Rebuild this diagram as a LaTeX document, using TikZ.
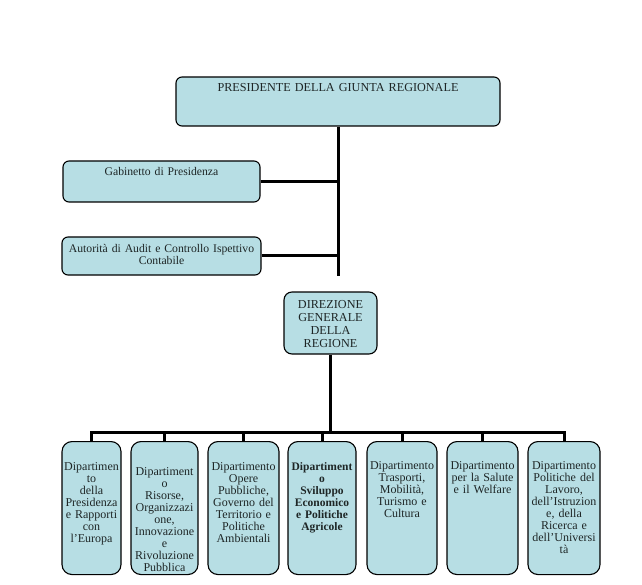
\documentclass[tikz,border=0pt]{standalone}
\usepackage{fontspec}
\setmainfont{Liberation Serif}
\usetikzlibrary{positioning,calc}
\definecolor{boxcyan}{HTML}{B7DEE4}
\definecolor{inkgray}{HTML}{1E2626}

\begin{document}
\begin{tikzpicture}[x=1pt,y=-1pt,
  box/.style={draw=black,line width=1.1pt,fill=boxcyan,text=inkgray,align=center,inner xsep=2pt,inner ysep=0pt,rounded corners=6pt,font=\fontsize{11.7}{13}\selectfont},
  dept/.style={box,rounded corners=10pt,anchor=north,text height=28.5pt,text depth=104.5pt,font=\fontsize{12}{12}\selectfont},
  link/.style={line width=3pt,black}]
\useasboundingbox (0,0) rectangle (642,585);
% top of the chart
\node[box,text width=320pt,text height=15pt,text depth=34pt,font=\fontsize{12.2}{14}\selectfont] (pres) at (338,101.5) {PRESIDENTE DELLA GIUNTA REGIONALE};
\node[box,text width=193pt,text height=15pt,text depth=26pt] (gab) at (161.5,181.5) {Gabinetto di Presidenza};
\node[box,text width=195pt,text height=15pt,text depth=23pt] (aud) at (161.5,256) {Autorità di Audit e Controllo Ispettivo\\Contabile};
\node[box,rounded corners=8pt,text width=89pt,text height=16pt,text depth=46pt,font=\fontsize{12.2}{13.3}\selectfont] (dir) at (330.5,323) {DIREZIONE\\GENERALE\\DELLA\\REGIONE};
% departments
\node[dept,text width=55pt] (d1) at (91.5,441) {Dipartimen\\to\\della\\Presidenza\\e Rapporti\\con\\l'Europa};
\node[dept,text width=63pt,text height=33.5pt,text depth=99.5pt] (d2) at (164.5,441) {Dipartiment\\o\\Risorse,\\Organizzazi\\one,\\Innovazione\\e\\Rivoluzione\\Pubblica};
\node[dept,text width=67pt] (d3) at (243.5,441) {Dipartimento\\Opere\\Pubbliche,\\Governo del\\Territorio e\\Politiche\\Ambientali};
\node[dept,text width=64pt,font=\fontsize{11.5}{12}\selectfont\bfseries] (d4) at (322,441) {Dipartiment\\o\\Sviluppo\\Economico\\e Politiche\\Agricole};
\node[dept,text width=66pt,text height=27.5pt,text depth=105.5pt] (d5) at (402,441) {Dipartimento\\Trasporti,\\Mobilità,\\Turismo e\\Cultura};
\node[dept,text width=67pt,text height=27.5pt,text depth=105.5pt] (d6) at (482.5,441) {Dipartimento\\per la Salute\\e il Welfare};
\node[dept,text width=68pt,text height=27.5pt,text depth=105.5pt] (d7) at (564,441) {Dipartimento\\Politiche del\\Lavoro,\\dell'Istruzion\\e, della\\Ricerca e\\dell'Universi\\tà};
% connectors
\coordinate (spine) at (338,276);
\coordinate (bus) at (330.5,432);
\draw[link] (pres.south) -- (spine);
\draw[link] (gab.east) -- (gab.east -| spine);
\draw[link] (aud.east) -- (aud.east -| spine);
\draw[link] (dir.south) -- (bus);
\draw[link] (d1.north) -- (d1.north |- bus) -- (d7.north |- bus) -- (d7.north);
\foreach \i in {2,...,6}{\draw[link] (d\i.north) -- (d\i.north |- bus);}
\end{tikzpicture}
\end{document}
